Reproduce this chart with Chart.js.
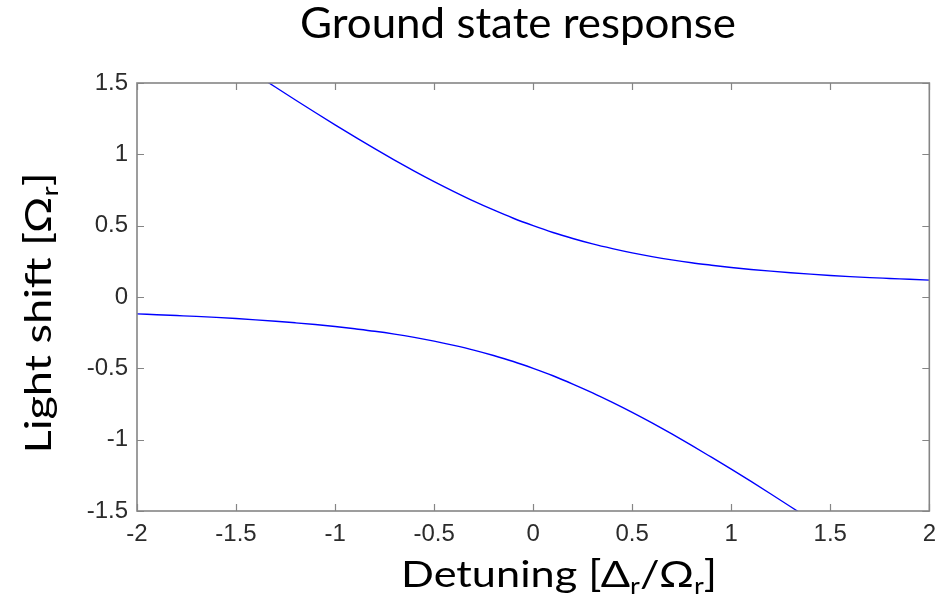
<!DOCTYPE html>
<html>
<head>
<meta charset="utf-8">
<script src="https://cdn.jsdelivr.net/npm/chart.js@4.4.1/dist/chart.umd.min.js"></script>
<style>
  html, body { margin: 0; padding: 0; background: #fff; }
  #wrap { width: 945px; height: 601px; }
</style>
</head>
<body>
<div id="wrap"><canvas id="chart" width="945" height="601"></canvas></div>
<script>
// detuning values (x) and the two light-shift branches
const detuning = [-2, -1.9, -1.8, -1.7, -1.6, -1.5, -1.4, -1.3, -1.2, -1.1, -1,
  -0.9, -0.8, -0.7, -0.6, -0.5, -0.4, -0.3, -0.2, -0.1, 0,
  0.1, 0.2, 0.3, 0.4, 0.5, 0.6, 0.7, 0.8, 0.9, 1,
  1.1, 1.2, 1.3, 1.4, 1.5, 1.6, 1.7, 1.8, 1.9, 2];
const upperShift = [2.118, 2.024, 1.930, 1.836, 1.743, 1.651, 1.560, 1.470, 1.381, 1.293, 1.207,
  1.123, 1.040, 0.960, 0.883, 0.809, 0.739, 0.672, 0.610, 0.552, 0.500,
  0.452, 0.410, 0.372, 0.339, 0.309, 0.283, 0.260, 0.240, 0.223, 0.207,
  0.193, 0.181, 0.170, 0.160, 0.151, 0.143, 0.136, 0.130, 0.124, 0.118];
const lowerShift = [-0.118, -0.124, -0.130, -0.136, -0.143, -0.151, -0.160, -0.170, -0.181, -0.193, -0.207,
  -0.223, -0.240, -0.260, -0.283, -0.309, -0.339, -0.372, -0.410, -0.452, -0.500,
  -0.552, -0.610, -0.672, -0.739, -0.809, -0.883, -0.960, -1.040, -1.123, -1.207,
  -1.293, -1.381, -1.470, -1.560, -1.651, -1.743, -1.836, -1.930, -2.024, -2.118];
const xTickLabels = ["-2", "-1.5", "-1", "-0.5", "0", "0.5", "1", "1.5", "2"];
const yTickLabels = ["-1.5", "-1", "-0.5", "0", "0.5", "1", "1.5"];

const titleParts = [["Ground state response"]];
const xLabelParts = [["Detuning [\u0394"], ["r", true], ["/\u03A9"], ["r", true], ["]"]];
const yLabelParts = [["Light shift [\u03A9"], ["r", true], ["]"]];

const textFont = "Lato, 'Open Sans', sans-serif";
const boxColor = "#858585";

// draws text with subscripts, centred on x, baseline at y, stretched to a given width
function drawRich(ctx, parts, x, y, size, width) {
  const subSize = Math.round(size * 0.62);
  let total = 0;
  parts.forEach(p => {
    ctx.font = (p[1] ? subSize : size) + "px " + textFont;
    total += ctx.measureText(p[0]).width;
  });
  const sx = width ? width / total : 1;
  ctx.save();
  ctx.translate(x - total * sx / 2, y);
  ctx.scale(sx, 1);
  ctx.textAlign = "left";
  ctx.textBaseline = "alphabetic";
  let cx = 0;
  parts.forEach(p => {
    ctx.font = (p[1] ? subSize : size) + "px " + textFont;
    ctx.fillText(p[0], cx, p[1] ? size * 0.2 : 0);
    cx += ctx.measureText(p[0]).width;
  });
  ctx.restore();
}

const frame = {
  id: "frame",
  afterDatasetsDraw(chart) {
    const { ctx, chartArea: a, scales } = chart;
    ctx.save();
    ctx.strokeStyle = boxColor;
    ctx.lineWidth = 1.6;
    ctx.strokeRect(a.left, a.top, a.right - a.left, a.bottom - a.top);
    const tl = 7;
    ctx.lineWidth = 1.2;
    ctx.beginPath();
    scales.x.ticks.forEach(t => {
      const px = Math.round(scales.x.getPixelForValue(t.value)) + 0.5;
      ctx.moveTo(px, a.bottom); ctx.lineTo(px, a.bottom - tl);
      ctx.moveTo(px, a.top); ctx.lineTo(px, a.top + tl);
    });
    scales.y.ticks.forEach(t => {
      const py = Math.round(scales.y.getPixelForValue(t.value)) + 0.5;
      ctx.moveTo(a.left, py); ctx.lineTo(a.left + tl, py);
      ctx.moveTo(a.right, py); ctx.lineTo(a.right - tl, py);
    });
    ctx.stroke();
    ctx.restore();
  },
  afterDraw(chart) {
    const ctx = chart.ctx;
    ctx.save();
    ctx.fillStyle = "#000";
    drawRich(ctx, titleParts, 518, 38, 42, 436);
    drawRich(ctx, xLabelParts, 559, 587, 37, 316);
    ctx.translate(51, 313);
    ctx.rotate(-Math.PI / 2);
    drawRich(ctx, yLabelParts, 0, 0, 37, 281);
    ctx.restore();
  }
};

const lineStyle = {
  showLine: true,
  borderColor: "#0000ff",
  borderWidth: 1.4,
  pointRadius: 0,
  fill: false,
  cubicInterpolationMode: "monotone"
};

new Chart(document.getElementById("chart"), {
  type: "scatter",
  plugins: [frame],
  data: {
    datasets: [
      { ...lineStyle, label: "upper", data: detuning.map((x, i) => ({ x: x, y: upperShift[i] })) },
      { ...lineStyle, label: "lower", data: detuning.map((x, i) => ({ x: x, y: lowerShift[i] })) }
    ]
  },
  options: {
    responsive: false,
    animation: false,
    layout: { padding: { left: 0, top: 83, right: 11, bottom: 0 } },
    plugins: { legend: { display: false }, tooltip: { enabled: false } },
    scales: {
      x: {
        type: "linear",
        min: -2, max: 2,
        afterFit: s => { s.height = 90; },
        grid: { display: false, drawTicks: false },
        border: { display: false },
        ticks: {
          stepSize: 0.5,
          padding: 9,
          color: "#2b2b2b",
          font: { family: "'Liberation Sans', Arial, sans-serif", size: 24 },
          callback: (v, i) => xTickLabels[i]
        }
      },
      y: {
        type: "linear",
        min: -1.5, max: 1.5,
        afterFit: s => { s.width = 137; },
        grid: { display: false, drawTicks: false },
        border: { display: false },
        ticks: {
          stepSize: 0.5,
          padding: 9,
          color: "#2b2b2b",
          font: { family: "'Liberation Sans', Arial, sans-serif", size: 24 },
          callback: (v, i) => yTickLabels[i]
        }
      }
    }
  }
});
</script>
</body>
</html>
